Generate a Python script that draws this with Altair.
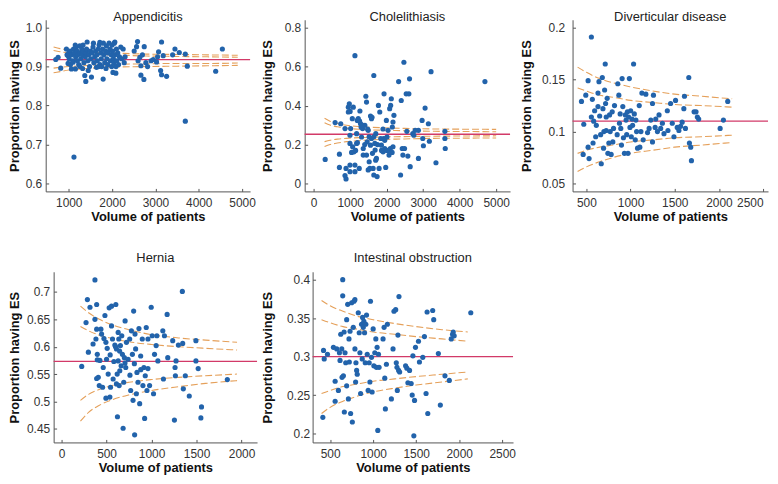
import altair as alt
import pandas as pd

FONT = "Liberation Sans"
BLUE = "#2263ab"
RED = "#d23a68"
ORANGE = "#e5a05a"
AXC = "#555555"
LBL = "#333333"
YTITLE = "Proportion having ES"
XTITLE = "Volume of patients"

# ---------------- Appendicitis ----------------
app_vol = [
    700, 754, 815, 946, 960, 985, 985, 1000, 1010, 1030,
    1040, 1062, 1070, 1090, 1100, 1110, 1120, 1130, 1150, 1154,
    1160, 1170, 1190, 1200, 1210, 1230, 1254, 1260, 1260, 1280,
    1300, 1310, 1320, 1330, 1340, 1350, 1370, 1380, 1393, 1400,
    1410, 1424, 1440, 1450, 1460, 1480, 1500, 1510, 1524, 1540,
    1560, 1570, 1580, 1600, 1620, 1640, 1650, 1660, 1680, 1690,
    1700, 1717, 1720, 1740, 1750, 1760, 1780, 1794, 1800, 1810,
    1830, 1850, 1860, 1870, 1880, 1900, 1910, 1930, 1950, 1960,
    1980, 1990, 2000, 2010, 2020, 2030, 2040, 2050, 2064, 2070,
    2087, 2090, 2100, 2110, 2130, 2150, 2170, 2200, 2220, 2256,
    2280, 2300, 2510, 2565, 2588, 2600, 2641, 2665, 2665, 2700,
    2734, 2742, 2780, 2819, 2900, 2950, 3027, 3050, 3073, 3120,
    3142, 3142, 3180, 3258, 3397, 3451, 3551, 3690, 3690, 3736,
    4391, 4545]
app_prop = [
    .918, .924, .896, .945, .930, .928, .908, .935, .920, .940,
    .905, .894, .930, .915, .911, .945, .668, .935, .955, .894,
    .925, .950, .940, .915, .930, .905, .953, .935, .900, .920,
    .945, .930, .895, .955, .940, .910, .877, .925, .862, .935,
    .945, .963, .915, .890, .930, .900, .940, .920, .873, .935,
    .950, .960, .910, .925, .940, .898, .930, .915, .945, .900,
    .955, .962, .905, .935, .920, .900, .945, .868, .960, .930,
    .910, .940, .895, .953, .920, .905, .935, .960, .945, .915,
    .930, .900, .955, .940, .885, .920, .910, .960, .963, .930,
    .883, .900, .945, .915, .935, .905, .925, .950, .920, .945,
    .910, .925, .940, .951, .964, .915, .924, .902, .878, .930,
    .867, .951, .910, .900, .915, .918, .912, .925, .938, .890,
    .963, .879, .928, .875, .930, .945, .936, .932, .760, .901,
    .888, .945]
app_center = 0.918
app_fvol = [650, 800, 1000, 1300, 1700, 2200, 2800, 3500, 4200, 4900]
app_u2 = [0.950, 0.946, 0.942, 0.939, 0.936, 0.934, 0.932, 0.931, 0.930, 0.929]
app_u1 = [0.941, 0.938, 0.935, 0.933, 0.931, 0.929, 0.927, 0.926, 0.925, 0.924]
app_l1 = [0.896, 0.898, 0.900, 0.902, 0.904, 0.906, 0.907, 0.908, 0.908, 0.909]
app_l2 = [0.884, 0.887, 0.891, 0.894, 0.897, 0.899, 0.900, 0.901, 0.902, 0.903]

# ---------------- Cholelithiasis ----------------
cho_vol = [
    317, 589, 707, 707, 743, 860, 860, 888, 888, 951,
    951, 978, 996, 996, 996, 996, 1014, 1060, 1069, 1087,
    1105, 1132, 1132, 1132, 1178, 1178, 1196, 1223, 1250, 1268,
    1286, 1313, 1340, 1359, 1359, 1404, 1431, 1449, 1449, 1467,
    1495, 1495, 1522, 1540, 1558, 1558, 1585, 1585, 1612, 1630,
    1649, 1649, 1676, 1685, 1703, 1721, 1739, 1775, 1794, 1812,
    1839, 1857, 1902, 1920, 1929, 1948, 1948, 1975, 1993, 2010,
    2038, 2065, 2083, 2101, 2110, 2128, 2156, 2174, 2174, 2328,
    2382, 2400, 2427, 2445, 2473, 2491, 2536, 2554, 2581, 2609,
    2627, 2645, 2717, 2745, 2781, 2871, 2871, 2971, 2989, 3007,
    3053, 3143, 3170, 3216, 3351, 3596, 3596, 3605, 4692,
    1000, 1040, 1150, 1200, 1260, 1300, 1330, 1400, 1480, 1520,
    1600, 1650, 1700, 1750, 1860, 1900, 2000, 2050, 2150, 2200]
cho_prop = [
    .124, .313, .151, .083, .307, .282, .041, .024, .078, .392,
    .367, .409, .095, .061, .206, .248, .282, .333, .189, .392,
    .163, .656, .095, .061, .256, .206, .324, .333, .078, .372,
    .307, .239, .282, .180, .146, .299, .448, .418, .146, .214,
    .273, .070, .112, .078, .346, .197, .231, .333, .155, .078,
    .044, .554, .206, .172, .256, .129, .036, .401, .078, .367,
    .231, .197, .163, .231, .460, .180, .222, .083, .324, .239,
    .273, .146, .384, .180, .401, .435, .290, .316, .189, .523,
    .044, .426, .180, .146, .622, .180, .460, .268, .141, .460,
    .537, .087, .256, .248, .273, .273, .129, .324, .231, .194,
    .387, .307, .217, .574, .107, .268, .231, .180, .523,
    .370, .160, .170, .210, .320, .290, .300, .200, .280, .240,
    .340, .240, .120, .200, .170, .280, .170, .170, .160, .350]
cho_center = 0.253
cho_fvol = [300, 450, 650, 900, 1300, 1800, 2500, 3300, 4100, 5000]
cho_u2 = [0.335, 0.320, 0.308, 0.299, 0.292, 0.287, 0.283, 0.280, 0.279, 0.278]
cho_u1 = [0.312, 0.300, 0.291, 0.284, 0.278, 0.274, 0.271, 0.268, 0.267, 0.266]
cho_l1 = [0.215, 0.222, 0.228, 0.232, 0.236, 0.239, 0.241, 0.243, 0.244, 0.245]
cho_l2 = [0.190, 0.200, 0.208, 0.215, 0.221, 0.226, 0.229, 0.232, 0.233, 0.234]

# ---------------- Diverticular disease ----------------
div_vol = [
    444, 463, 470, 493, 519, 519, 530, 556, 556, 567,
    575, 582, 593, 605, 612, 631, 631, 642, 650, 661,
    668, 680, 687, 694, 698, 706, 713, 717, 724, 724,
    735, 743, 754, 762, 769, 780, 792, 799, 807, 818,
    848, 855, 867, 874, 882, 889, 897, 904, 912, 919,
    930, 941, 949, 956, 964, 971, 978, 986, 993, 1001,
    1008, 1016, 1023, 1034, 1042, 1053, 1060, 1068, 1079, 1098,
    1105, 1117, 1128, 1143, 1173, 1192, 1210, 1229, 1248, 1248,
    1259, 1278, 1285, 1304, 1322, 1341, 1360, 1378, 1416, 1423,
    1453, 1472, 1491, 1509, 1528, 1547, 1566, 1584, 1603, 1610,
    1621, 1659, 1666, 1681, 1689, 1719, 1741, 1756, 1771, 2014,
    2051, 2100]
div_prop = [
    .129, .078, .107, .135, .149, .085, .074, .191, .114, .131,
    .089, .110, .120, .095, .106, .137, .124, .148, .115, .097,
    .069, .152, .122, .084, .100, .140, .165, .127, .114, .101,
    .132, .079, .089, .116, .100, .078, .119, .090, .103, .125,
    .097, .146, .135, .108, .117, .103, .087, .151, .124, .094,
    .079, .116, .111, .097, .119, .079, .114, .151, .104, .120,
    .095, .112, .106, .165, .117, .092, .111, .100, .084, .125,
    .085, .100, .137, .092, .136, .099, .103, .111, .127, .090,
    .135, .104, .112, .100, .116, .103, .108, .098, .120, .101,
    .127, .108, .095, .130, .104, .101, .105, .109, .122, .134,
    .103, .152, .089, .085, .072, .119, .119, .114, .112, .103,
    .111, .129]
div_center = 0.110
div_fvol = [400, 500, 650, 800, 1000, 1250, 1500, 1800, 2150]
div_u2 = [0.162, 0.157, 0.151, 0.147, 0.143, 0.139, 0.136, 0.134, 0.1315]
div_u1 = [0.142, 0.139, 0.135, 0.133, 0.130, 0.128, 0.126, 0.125, 0.1235]
div_l1 = [0.079, 0.082, 0.085, 0.087, 0.090, 0.092, 0.094, 0.095, 0.0965]
div_l2 = [0.0615, 0.066, 0.071, 0.075, 0.079, 0.082, 0.085, 0.087, 0.0895]

# ---------------- Hernia ----------------
her_vol = [
    224, 272, 287, 298, 316, 371, 371, 382, 390, 390,
    390, 397, 397, 408, 419, 426, 437, 445, 456, 463,
    471, 482, 493, 493, 500, 507, 518, 529, 537, 544,
    555, 555, 566, 573, 581, 592, 603, 610, 610, 618,
    621, 629, 629, 636, 640, 647, 654, 662, 669, 676,
    684, 691, 698, 706, 713, 721, 739, 757, 768, 776,
    787, 794, 801, 809, 812, 816, 823, 831, 838, 849,
    860, 868, 879, 897, 904, 915, 923, 930, 941, 949,
    960, 978, 996, 1007, 1022, 1033, 1051, 1059, 1070, 1125,
    1132, 1143, 1173, 1180, 1235, 1254, 1261, 1265, 1272, 1298,
    1342, 1346, 1353, 1375, 1419, 1493, 1493, 1518, 1548, 1555,
    1842, 600, 645, 705, 760, 880, 350, 540, 960]
her_prop = [
    .564, .644, .686, .590, .672, .722, .650, .614, .677, .632,
    .542, .586, .576, .544, .529, .575, .632, .623, .526, .562,
    .615, .657, .608, .506, .577, .597, .550, .671, .508, .526,
    .638, .674, .614, .541, .573, .603, .677, .596, .532, .550,
    .472, .626, .574, .614, .529, .556, .602, .565, .620, .586,
    .451, .535, .580, .647, .562, .608, .577, .614, .520, .629,
    .586, .502, .665, .569, .439, .623, .596, .514, .553, .535,
    .633, .496, .583, .614, .529, .562, .469, .547, .635, .520,
    .614, .529, .672, .620, .514, .586, .602, .620, .574, .629,
    .541, .620, .659, .580, .611, .466, .562, .547, .574, .603,
    .701, .606, .523, .547, .510, .611, .574, .560, .470, .490,
    .540, .600, .592, .570, .548, .558, .605, .585, .560]
her_center = 0.573
her_fvol = [210, 300, 420, 560, 750, 1000, 1300, 1600, 1950]
her_u2 = [0.674, 0.662, 0.650, 0.640, 0.631, 0.622, 0.616, 0.612, 0.608]
her_u1 = [0.637, 0.629, 0.621, 0.615, 0.609, 0.604, 0.600, 0.597, 0.594]
her_l1 = [0.502, 0.513, 0.522, 0.529, 0.535, 0.540, 0.544, 0.547, 0.550]
her_l2 = [0.464, 0.480, 0.493, 0.503, 0.512, 0.520, 0.527, 0.533, 0.538]

# ---------------- Intestinal obstruction ----------------
int_vol = [
    415, 423, 431, 469, 538, 558, 558, 577, 596, 608,
    615, 623, 635, 638, 646, 646, 654, 662, 665, 673,
    681, 692, 692, 704, 712, 719, 723, 731, 738, 750,
    758, 769, 777, 788, 788, 796, 800, 808, 815, 827,
    838, 846, 854, 865, 873, 877, 885, 892, 900, 908,
    915, 923, 931, 942, 954, 962, 969, 981, 988, 1000,
    1008, 1019, 1031, 1038, 1046, 1054, 1062, 1069, 1115, 1127,
    1135, 1142, 1154, 1165, 1212, 1231, 1242, 1262, 1269, 1277,
    1281, 1288, 1296, 1300, 1308, 1377, 1392, 1404, 1423, 1442,
    1454, 1462, 1473, 1481, 1492, 1527, 1538, 1577, 1596, 1615,
    1627, 1635, 1692, 1704, 1758, 1781, 1835, 1885, 1908, 1923,
    1931, 1942, 2135]
int_prop = [
    .221, .308, .297, .303, .312, .242, .268, .310, .256, .305,
    .295, .329, .310, .273, .400, .379, .275, .332, .228, .305,
    .292, .262, .348, .368, .245, .323, .293, .333, .226, .370,
    .215, .338, .372, .374, .310, .267, .292, .282, .277, .357,
    .331, .305, .252, .342, .297, .351, .338, .346, .331, .292,
    .342, .354, .303, .256, .292, .267, .372, .299, .254, .336,
    .288, .305, .323, .286, .312, .204, .303, .286, .323, .338,
    .272, .232, .290, .342, .245, .310, .359, .361, .292, .286,
    .256, .328, .282, .378, .280, .288, .285, .266, .282, .265,
    .250, .301, .197, .243, .312, .320, .293, .299, .326, .252,
    .358, .226, .360, .348, .304, .237, .275, .269, .323, .329,
    .332, .327, .357]
int_center = 0.300
int_fvol = [400, 500, 650, 800, 1000, 1250, 1500, 1800, 2100]
int_u2 = [0.373, 0.366, 0.359, 0.353, 0.348, 0.343, 0.339, 0.335, 0.332]
int_u1 = [0.348, 0.344, 0.339, 0.336, 0.332, 0.329, 0.326, 0.323, 0.320]
int_l1 = [0.252, 0.256, 0.261, 0.264, 0.268, 0.271, 0.274, 0.277, 0.280]
int_l2 = [0.226, 0.234, 0.242, 0.248, 0.254, 0.259, 0.263, 0.267, 0.271]


def panel(title, vol, prop, center, fvol, u2, u1, l1, l2,
          xdom, ydom, xvals, yvals, yfmt, w, h, ext, tpad, lpad,
          toff, flush=False):
    pts = pd.DataFrame({"vol": vol, "prop": prop})
    rows = []
    for name, arr in (("u2", u2), ("u1", u1), ("l1", l1), ("l2", l2)):
        for v, p in zip(fvol, arr):
            rows.append({"vol": v, "lim": p, "series": name})
    fun = pd.DataFrame(rows)
    cen = pd.DataFrame({"c": [center]})

    xs = alt.Scale(domain=xdom, nice=False, zero=False)
    ys = alt.Scale(domain=ydom, nice=False, zero=False)

    xkw = dict(orient="bottom", values=xvals, format="d", ticks=False,
               labelPadding=6, labelFontSize=12, labelColor=LBL,
               domainColor=AXC, domainWidth=1, grid=False,
               title=XTITLE, titleFontSize=13, titleFontWeight="bold",
               titleColor="#111111", titlePadding=2)
    if flush:
        xkw.update(labelFlush=6, labelFlushOffset=0)
    else:
        xkw.update(labelFlush=False)
    x_main = alt.Axis(**xkw)
    y_main = alt.Axis(orient="left", values=yvals, format=yfmt, ticks=False,
                      labelPadding=lpad, labelFontSize=12, labelColor=LBL,
                      domainColor=AXC, domainWidth=1, grid=False,
                      title=YTITLE, titleFontSize=13, titleFontWeight="bold",
                      titleColor="#111111", titlePadding=tpad,
                      minExtent=ext, maxExtent=ext)
    x_in = alt.Axis(orient="top", offset=-h, values=xvals, labels=False,
                    domain=False, ticks=True, tickSize=3, tickColor=AXC,
                    grid=False, title=None, minExtent=0, maxExtent=0)
    y_in = alt.Axis(orient="right", offset=-w, values=yvals, labels=False,
                    domain=False, ticks=True, tickSize=3, tickColor=AXC,
                    grid=False, title=None, minExtent=0, maxExtent=0)

    funnel = alt.Chart(fun).mark_line(
        stroke=ORANGE, strokeWidth=1.1, strokeDash=[7, 3],
        interpolate="monotone"
    ).encode(
        x=alt.X("vol:Q", scale=xs, axis=x_in),
        y=alt.Y("lim:Q", scale=ys, axis=y_in),
        detail="series:N",
    )
    rule = alt.Chart(cen).mark_rule(
        stroke=RED, color=RED, strokeWidth=1.3, opacity=1
    ).encode(
        y=alt.Y("c:Q", scale=ys, axis=None),
    )
    dots = alt.Chart(pts).mark_circle(size=27, opacity=1, color=BLUE).encode(
        x=alt.X("vol:Q", scale=xs, axis=x_main),
        y=alt.Y("prop:Q", scale=ys, axis=y_main),
    )
    return alt.layer(funnel, rule, dots).resolve_axis(
        x="independent", y="independent"
    ).properties(
        width=w, height=h,
        title=alt.TitleParams(title, fontSize=13, fontWeight="normal",
                              color="#222222", offset=toff, anchor="middle"),
    )


def spacer(w):
    # invisible, empty cell used only to set the gap between panels
    return alt.Chart(pd.DataFrame({"v": [0]})).mark_point(
        size=0, opacity=0
    ).encode(x=alt.value(0), y=alt.value(0)).properties(width=w, height=1)


p1 = panel("Appendicitis", app_vol, app_prop, app_center, app_fvol,
           app_u2, app_u1, app_l1, app_l2,
           [468, 5185], [0.58, 1.02], [1000, 2000, 3000, 4000, 5000],
           [0.6, 0.7, 0.8, 0.9, 1.0], ".1f", 206, 173, 21, 3, 4, -4)
p2 = panel("Cholelithiasis", cho_vol, cho_prop, cho_center, cho_fvol,
           cho_u2, cho_u1, cho_l1, cho_l2,
           [-245, 5380], [-0.04, 0.84], [0, 1000, 2000, 3000, 4000, 5000],
           [0, 0.2, 0.4, 0.6, 0.8], "~g", 207, 173, 22, 8, 4, -4)
p3 = panel("Diverticular disease", div_vol, div_prop, div_center, div_fvol,
           div_u2, div_u1, div_l1, div_l2,
           [343, 2556], [0.0424, 0.2076], [500, 1000, 1500, 2000, 2500],
           [0.05, 0.1, 0.15, 0.2], "~g", 197, 173, 32, 7, 8, -4, flush=True)
p4 = panel("Hernia", her_vol, her_prop, her_center, her_fvol,
           her_u2, her_u1, her_l1, her_l2,
           [-88, 2172], [0.4252, 0.7368], [0, 500, 1000, 1500, 2000],
           [0.45, 0.5, 0.55, 0.6, 0.65, 0.7], "~g", 205, 172, 28, 4, 4, 7)
p5 = panel("Intestinal obstruction", int_vol, int_prop, int_center, int_fvol,
           int_u2, int_u1, int_l1, int_l2,
           [296, 2626], [0.1884, 0.4103], [500, 1000, 1500, 2000, 2500],
           [0.2, 0.25, 0.3, 0.35, 0.4], "~g", 202, 172, 25, 13, 3, 7)

row1 = alt.hconcat(spacer(36), p1, spacer(53), p2, spacer(61), p3,
                   spacing=1, bounds="flush")
row2 = alt.hconcat(spacer(44), p4, spacer(54), p5,
                   spacing=1, bounds="flush")

chart = alt.vconcat(row1, row2, spacing=27).properties(
    padding={"left": 0, "top": 0, "right": 0, "bottom": 0}
).configure(font=FONT).configure_view(stroke="transparent")

chart.save("out.html", embed_options={"renderer": "svg", "actions": False})
